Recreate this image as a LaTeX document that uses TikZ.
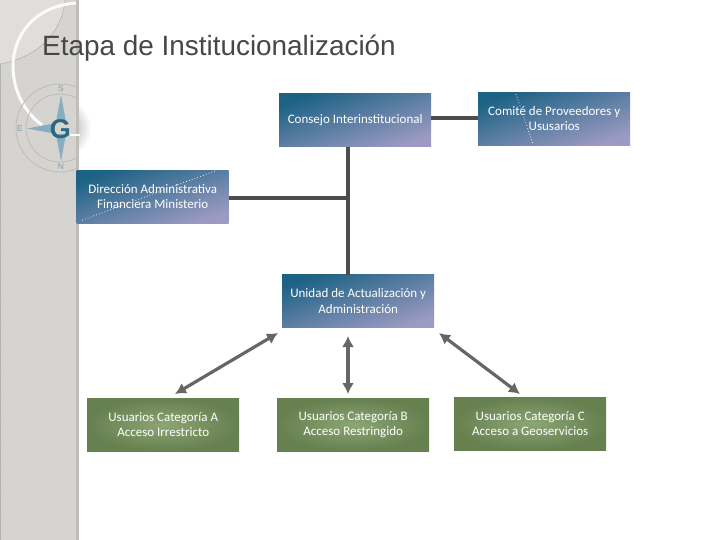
\documentclass[tikz,border=0pt]{standalone}
\usepackage{fontspec}
\setmainfont{Carlito}
\newfontfamily\titlefont{Liberation Sans}
\newfontfamily\compassfont{Liberation Sans}
\usetikzlibrary{arrows.meta,patterns}
\definecolor{tealdark}{HTML}{1C6284}
\definecolor{lilac}{HTML}{9C9AC2}
\definecolor{greenmid}{HTML}{8BA573}
\definecolor{greenedge}{HTML}{668050}
\definecolor{barcol}{HTML}{4D4D4D}
\definecolor{arrowcol}{HTML}{666666}
\definecolor{side}{HTML}{D5D3CF}
\definecolor{sidetex}{HTML}{DCDAD6}
\definecolor{sidelight}{HTML}{E0DEDA}
\definecolor{compassblue}{HTML}{86AEBF}
\definecolor{ringcol}{HTML}{C0BEB9}
\tikzset{
  x=1pt,y=-1pt,
  box/.style={minimum width=#1,minimum height=53pt,inner sep=0pt,align=center,text=white,
    font=\fontsize{13}{15.5}\selectfont,anchor=north west},
  bluebox/.style={box=152pt,top color=tealdark,bottom color=lilac,shading angle=19},
  greenbox/.style={box=152pt,inner color=greenmid,outer color=greenedge},
  bar/.style={draw=barcol,line width=4pt},
  twoway/.style={draw=arrowcol,line width=3.2pt,{Latex[length=11pt,width=12pt]}-{Latex[length=11pt,width=12pt]}},
  dots/.style={draw=white,line width=0.7pt,dash pattern=on 0.8pt off 2.2pt},
  ring/.style={draw=ringcol,line width=0.9pt},
  letter/.style={font=\compassfont\fontsize{8.5}{8.5}\selectfont,text=compassblue!65!gray,inner sep=0pt},
}
\begin{document}
\begin{tikzpicture}
\useasboundingbox (0,0) rectangle (720,540);
\fill[white] (0,0) rectangle (720,540);
% side band
\fill[side] (0,0) rectangle (79,540);
\fill[pattern=crosshatch dots,pattern color=sidetex] (0,0) rectangle (76,540);
\fill[sidelight] (0,0) -- (65,0) .. controls (62,35) and (35,58) .. (0,64) -- cycle;
\draw[gray!70,line width=0.4pt] (65,0) .. controls (62,35) and (35,58) .. (0,64);
\fill[gray!60] (0,64) rectangle (1.2,540);
\fill[ringcol] (76,0) rectangle (79,540);
\begin{scope}
  \clip (79,90) rectangle (100,170);
  \shade[inner color=gray!85,outer color=white] (60,128) circle[radius=31];
\end{scope}
\draw[white!92!side,line width=3pt] (76,3) .. controls (34,6) and (13,36) .. (13,66) .. controls (13,90) and (24,112) .. (42,125);
\begin{scope}
  \clip (0,70) rectangle (79,180);
  \draw[ring] (60,128) circle[radius=44];
  \draw[ring] (60,128) circle[radius=34];
\end{scope}
\draw[white!92!side,line width=1.5pt] (70,135) -- (80,135);
% compass
\fill[compassblue] (61,95) -- (66,122) -- (56,122) -- cycle;
\fill[compassblue] (61,161) -- (66,134) -- (56,134) -- cycle;
\fill[compassblue] (27,128.5) -- (54,123.5) -- (54,133.5) -- cycle;
\node[letter] (cs) at (61,89) {S};
\node[letter] (cn) at (61,167) {N};
\node[letter] (ce) at (20,128.5) {E};
\node[inner sep=0pt,text=tealdark!85!gray,font=\compassfont\bfseries\fontsize{27}{27}\selectfont] (cg) at (60.5,129.5) {G};
% title
\node[anchor=west,inner sep=0pt,text=black!72,font=\titlefont\fontsize{27.9}{30}\selectfont] (title) at (42,48) {Etapa de Institucionalización};
% boxes
\node[bluebox] (consejo) at (279,93.5) {Consejo Interinstitucional};
\node[bluebox] (comite) at (478,92) {Comité de Proveedores y\\Ususarios};
\node[bluebox] (direccion) at (76.5,170) {Dirección Administrativa\\Financiera Ministerio};
\node[bluebox] (unidad) at (282,274.5) {Unidad de Actualización y\\Administración};
\node[greenbox] (catA) at (87,398) {Usuarios Categoría A\\Acceso Irrestricto};
\node[greenbox] (catB) at (277,398) {Usuarios Categoría B\\Acceso Restringido};
\node[greenbox] (catC) at (454,397) {Usuarios Categoría C\\Acceso a Geoservicios};
% dotted traces
\coordinate (d1) at (215,171); \coordinate (d2) at (80,221);
\coordinate (d3) at (516,94); \coordinate (d4) at (533,144);
\draw[dots] (d1) -- (d2);
\draw[dots] (d3) -- (d4);
% connectors
\draw[bar] (consejo.east |- 0,118.5) -- (comite.west |- 0,118.5);
\coordinate (stemtop) at (348,147);
\coordinate (stembot) at (348,274.5);
\draw[bar] (stemtop) -- (stembot);
\coordinate (junction) at (350,198.5);
\draw[bar] (direccion.east |- junction) -- (junction);
\coordinate (a1) at (278,333); \coordinate (a2) at (175,394);
\coordinate (b1) at (348,336); \coordinate (b2) at (348,394);
\coordinate (c1) at (439,333); \coordinate (c2) at (520,394);
\draw[twoway] (a1) -- (a2);
\draw[twoway] (b1) -- (b2);
\draw[twoway] (c1) -- (c2);
\end{tikzpicture}
\end{document}
